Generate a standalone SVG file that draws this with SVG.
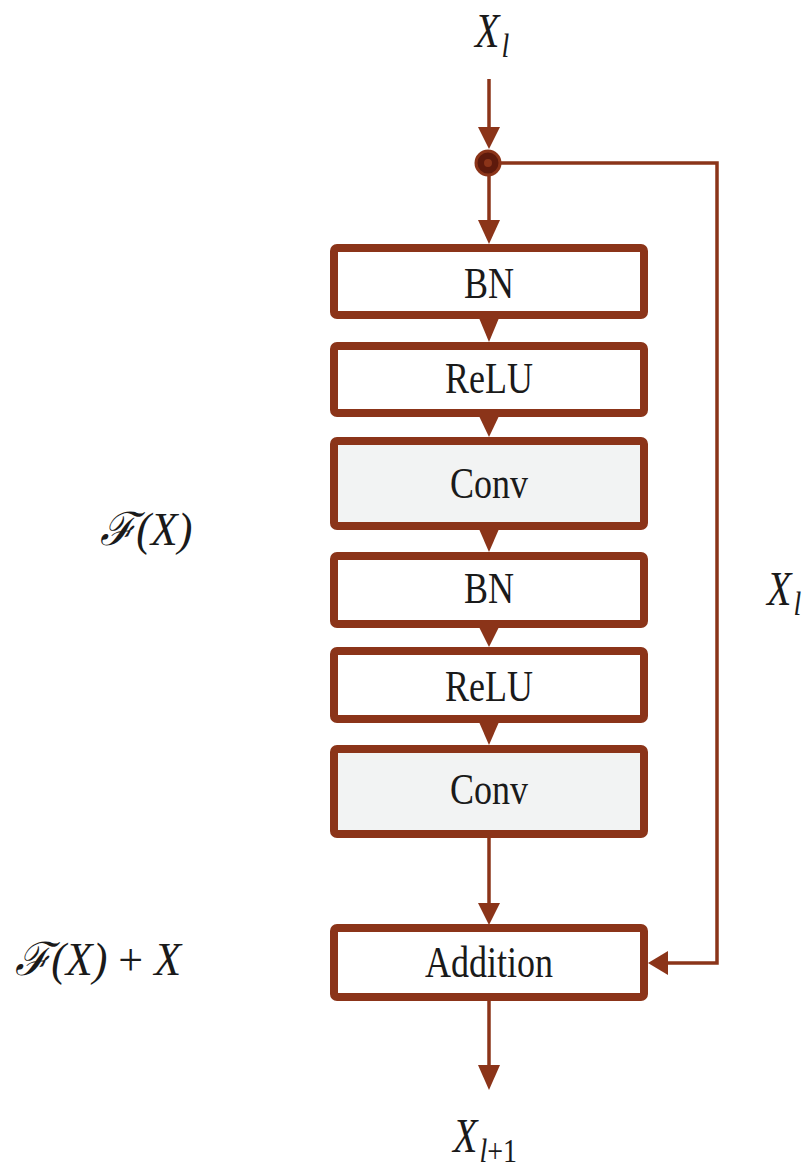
<svg xmlns="http://www.w3.org/2000/svg" width="811" height="1171" viewBox="0 0 811 1171">
<style>
.box{stroke:#8b3419;stroke-width:8;fill:#ffffff}
.conv{fill:#f2f3f3}
.lbl{font-family:"Liberation Serif","DejaVu Serif",serif;font-size:36px;fill:#1a1a1a;text-anchor:middle}
.math{font-family:"Liberation Serif","DejaVu Serif",serif;font-style:italic;font-size:40px;fill:#1a1a1a}
.up{font-style:normal}
.sub{font-size:28px}
.ln{stroke:#8b3419;stroke-width:3.5;fill:none}
.ah{fill:#8b3419}
</style>
<rect width="811" height="1171" fill="#ffffff"/>
<g id="connectors">
  <line class="ln" x1="489" y1="79" x2="489" y2="130"/>
  <polygon class="ah" points="478,127 500,127 489,149"/>
  <line class="ln" x1="489" y1="163" x2="489" y2="222"/>
  <polygon class="ah" points="478,220 500,220 489,244"/>
  <polyline class="ln" points="489,163 717,163 717,963 665,963"/>
  <polygon class="ah" points="668,951 668,975 648,963"/>
  <polygon class="ah" points="479,318 499,318 489,342"/>
  <polygon class="ah" points="479,416 499,416 489,437"/>
  <polygon class="ah" points="479,529 499,529 489,552"/>
  <polygon class="ah" points="479,627 499,627 489,647"/>
  <polygon class="ah" points="479,722 499,722 489,745"/>
  <line class="ln" x1="489" y1="838" x2="489" y2="905"/>
  <polygon class="ah" points="478,903 500,903 489,925"/>
  <line class="ln" x1="489" y1="1001" x2="489" y2="1068"/>
  <polygon class="ah" points="478,1065 500,1065 489,1090"/>
  <circle cx="488" cy="163" r="12" fill="#5e1a0c" stroke="#8b3419" stroke-width="3"/>
  <circle cx="488" cy="163" r="4" fill="#8b3419"/>
</g>
<g id="bn1"><rect class="box" x="334" y="248" width="310" height="67" rx="3"/><text class="lbl" transform="translate(489,298) scale(1,1.22)">BN</text></g>
<g id="relu1"><rect class="box" x="334" y="346" width="310" height="67" rx="3"/><text class="lbl" transform="translate(489,393) scale(1,1.22)">ReLU</text></g>
<g id="conv1"><rect class="box conv" x="334" y="441" width="310" height="85" rx="3"/><text class="lbl" transform="translate(489,498) scale(1,1.22)">Conv</text></g>
<g id="bn2"><rect class="box" x="334" y="556" width="310" height="68" rx="3"/><text class="lbl" transform="translate(489,603) scale(1,1.22)">BN</text></g>
<g id="relu2"><rect class="box" x="334" y="651" width="310" height="68" rx="3"/><text class="lbl" transform="translate(489,701) scale(1,1.22)">ReLU</text></g>
<g id="conv2"><rect class="box conv" x="334" y="749" width="310" height="85" rx="3"/><text class="lbl" transform="translate(489,804) scale(1,1.22)">Conv</text></g>
<g id="addition"><rect class="box" x="334" y="928" width="310" height="69" rx="3"/><text class="lbl" transform="translate(489,977) scale(1,1.22)">Addition</text></g>
<g id="labels">
  <text class="math" transform="translate(475,47) scale(1,1.2)">X<tspan class="sub" dy="8" dx="2">l</tspan></text>
  <text class="math" transform="translate(767,605) scale(1,1.2)">X<tspan class="sub" dy="8" dx="2">l</tspan></text>
  <text class="math" transform="translate(453,1152) scale(1,1.2)">X<tspan class="sub" dy="8" dx="2">l</tspan><tspan class="sub up">+1</tspan></text>
  <text class="math" transform="translate(100,545) scale(1.1,1.15)">ℱ(X)</text>
  <text class="math" transform="translate(15,975) scale(1.1,1.15)">ℱ(X) <tspan class="up">+</tspan> X</text>
</g>
</svg>
